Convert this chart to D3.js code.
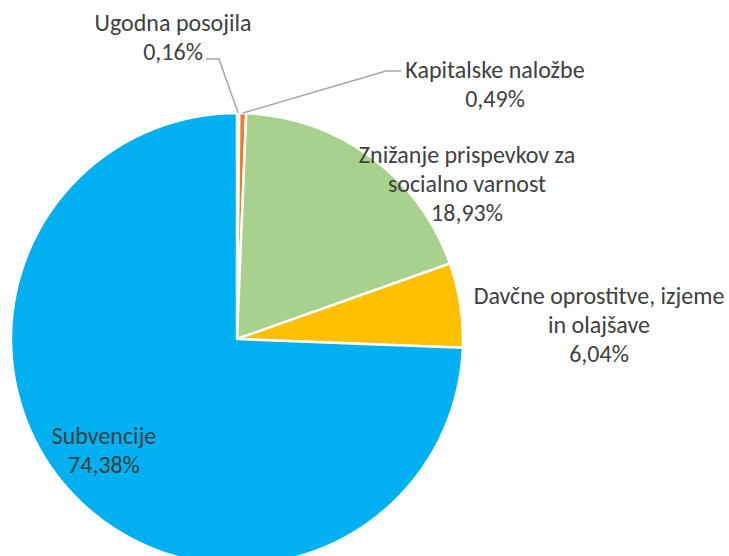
<!DOCTYPE html>
<html>
<head>
<meta charset="utf-8">
<script src="https://cdn.jsdelivr.net/npm/d3@7"></script>
<style>
  body { margin: 0; background: #fff; }
  text { font-family: Carlito, "Liberation Sans", Arial, sans-serif; fill: #404040; }
</style>
</head>
<body>
<div id="chart"></div>
<script>
const categories = ["Ugodna posojila", "Kapitalske naložbe", "Znižanje prispevkov za socialno varnost", "Davčne oprostitve, izjeme in olajšave", "Subvencije"];
const values = [0.16, 0.49, 18.93, 6.04, 74.38];
const colors = ["#4472C4", "#ED7D31", "#A9D18E", "#FFC000", "#00B0F0"];
// label lines as shown in the picture
const labelLines = [
  ["Ugodna posojila", "0,16%"],
  ["Kapitalske naložbe", "0,49%"],
  ["Znižanje prispevkov za", "socialno varnost", "18,93%"],
  ["Davčne oprostitve, izjeme", "in olajšave", "6,04%"],
  ["Subvencije", "74,38%"]
];

const width = 729, height = 556;
const cx = 237, cy = 339, radius = 226;

const svg = d3.select("#chart").append("svg")
  .attr("width", width).attr("height", height);

const pie = d3.pie().sort(null).value(d => d);
const arcs = pie(values);
const arc = d3.arc().innerRadius(0).outerRadius(radius);

const g = svg.append("g").attr("transform", `translate(${cx},${cy})`);

g.selectAll("path")
  .data(arcs)
  .enter().append("path")
  .attr("d", arc)
  .attr("fill", (d, i) => colors[i])
  .attr("stroke", "#fff")
  .attr("stroke-width", 2.5)
  .attr("stroke-linejoin", "round");

// label anchor positions (centre x, first baseline y) in svg coords
const labelPos = [
  [173, 31],
  [495, 78],
  [467, 163],
  [599, 304],
  [104, 444]
];
const lineGap = 29;

const labels = svg.append("g");
labelLines.forEach((lines, i) => {
  const t = labels.append("text")
    .attr("text-anchor", "middle")
    .style("font-size", "24px")
    .attr("x", labelPos[i][0])
    .attr("y", labelPos[i][1]);
  t.selectAll("tspan")
    .data(lines)
    .enter().append("tspan")
    .attr("x", labelPos[i][0])
    .attr("dy", (d, j) => j === 0 ? 0 : lineGap)
    .text(d => d);
});

// leader lines for the two small slices
function outerPoint(a) {
  const ang = (a.startAngle + a.endAngle) / 2;
  return [cx + radius * Math.sin(ang), cy - radius * Math.cos(ang)];
}
const p0 = outerPoint(arcs[0]);
const p1 = outerPoint(arcs[1]);
const leaders = [
  [[206, 59], [219, 59], p0],
  [[401, 71], [386, 71], p1]
];
svg.append("g").selectAll("path")
  .data(leaders)
  .enter().append("path")
  .attr("d", d3.line())
  .attr("fill", "none")
  .attr("stroke", "#a6a6a6")
  .attr("stroke-width", 1.5);
</script>
</body>
</html>
